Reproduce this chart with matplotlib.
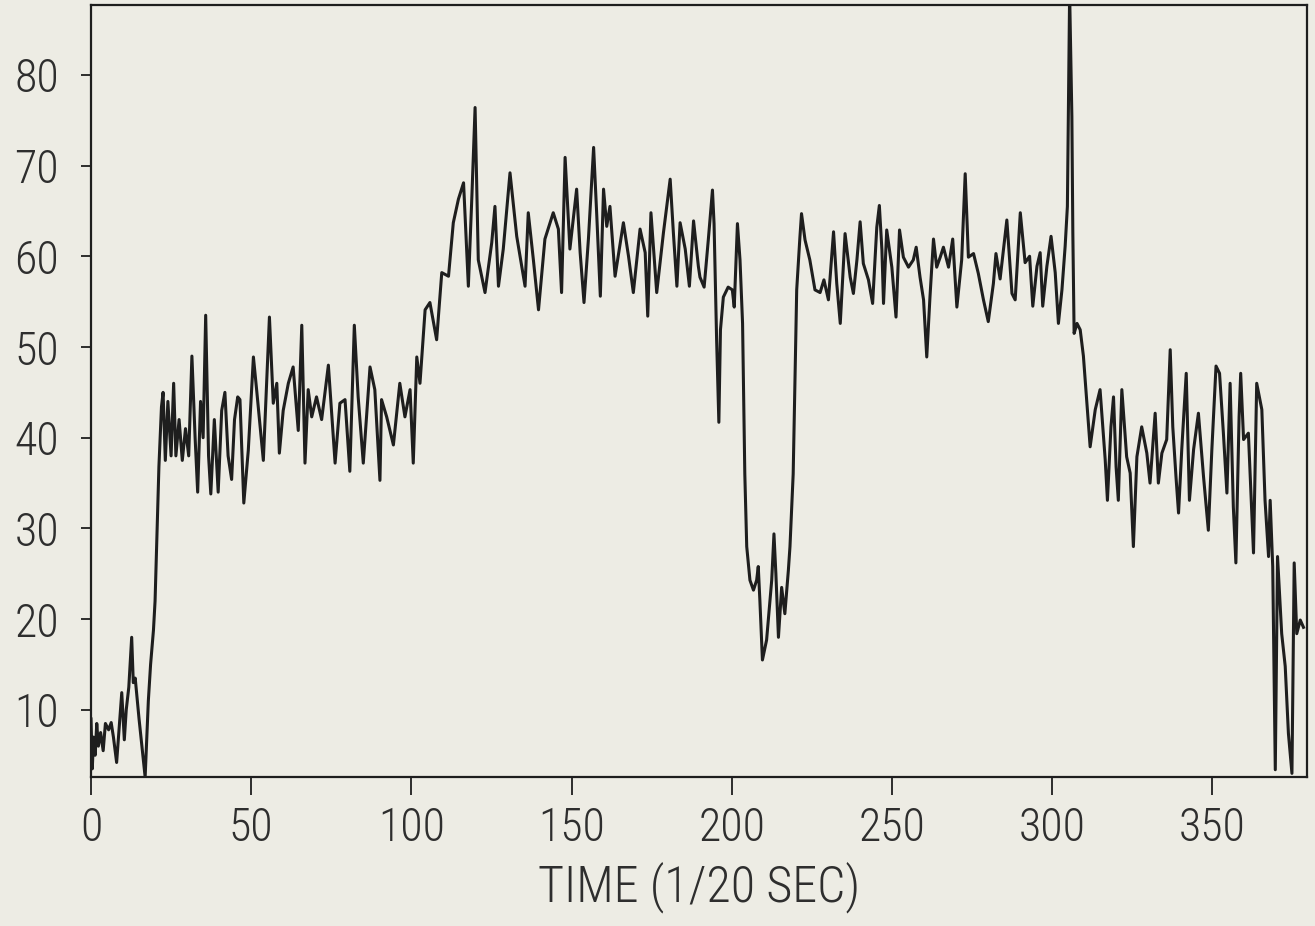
import matplotlib
matplotlib.use("Agg")
import matplotlib.pyplot as plt
from matplotlib import font_manager
from matplotlib.font_manager import FontProperties

# ---- data (time in 1/20 s, signal value) ----
time = [0, 0.4, 0.8, 1.3, 1.8, 2.3, 3, 3.8, 4.5, 5.5, 6.3, 7, 8, 8.8, 9.6, 10.4, 11, 11.8, 12.7, 13.2,
        13.8, 15, 16.2, 16.9, 17.9, 18.6, 19.5, 20, 20.8, 21.2, 22,
        22.5, 23.2, 24, 25, 25.8, 26.5, 27.5, 28.5, 29.5, 30.5, 31.5, 32.5, 33.3, 34.2, 35, 35.8, 36.7,
        37.4, 38.5, 39.7, 40.8, 41.8, 42.8, 43.9, 44.8, 45.8, 46.5, 47.7,
        49.1, 50.7, 51.7, 53.8, 55.7, 56.9, 58, 58.8, 60, 61.6, 63.1, 64.7, 65.8, 66.8, 67.8, 68.9, 70.4,
        72, 74.1, 76.2, 77.7, 79.3, 80.8, 82.2, 83.4, 85, 87.1, 88.6, 90.2, 90.7, 92.3, 94.4, 96.4, 98,
        99.6, 100.6, 101.7, 102.7,
        104.3, 105.8, 107.9, 109.5, 111.6, 113.1, 114.7, 116.3, 117.8, 118.9, 119.9, 120.9, 123, 125.1,
        126.1, 127.2, 128.7, 130.8, 132.9, 135.5, 136.5, 138.1, 139.7, 141.7, 144.3, 145.9, 146.9, 148,
        149.5, 151.6, 152.7, 153.9,
        155.3, 156.9, 157.9, 159, 160, 161, 162, 163.6, 166.2, 167.8, 169.3, 171.4, 173, 173.8, 174.8,
        176.6, 178.7, 180.8, 181.8, 182.9, 183.9, 185.5, 186.8, 188.1, 189.6, 190.1, 191.4, 192.7, 194,
        194.5, 195.3, 196, 196.5, 197.4, 198.9, 200.2, 200.8, 201.8, 202.6, 203.4, 204.1, 204.7, 205.7,
        206.8, 207.8, 208.3, 208.8, 209.6, 210.9, 212.5, 213.2, 213.8, 214.6, 215.6, 216.6, 217.7, 218.2,
        219.2, 220.3, 221.3, 221.8, 222.9, 224.4, 226, 227.6, 228.8, 230.2,
        231.8, 232.8, 233.9, 235.4, 237, 238, 239.1, 240.1, 241.1, 242.7, 244, 245.3, 246.1, 246.9, 247.4,
        248.4, 250, 251.3, 252.4, 253.6, 255.2, 256.7, 257.6, 258.8, 259.9, 260.9, 261.9, 263, 264, 265.1,
        266.1, 267.7, 269, 270.3, 271.8, 272.9, 273.9, 275.5, 277, 278.6, 280.1, 281.7, 282.5, 283.8,
        285.9, 287.5, 288.5, 290.1, 291.6, 293, 294, 295.3, 296.3, 297.1, 298.4, 299.7, 301, 302, 303.1,
        304.1, 304.8, 305.5, 306.2, 306.5, 306.9, 307.8, 308.8, 309.8, 311.9,
        313.5, 315, 316.6, 317.3, 318.4, 319.2, 320, 320.7, 321.8, 323.3, 324.4, 325.4, 326.5, 328, 329.6,
        330.6, 332.2, 333.2, 334.3, 335.8, 336.9, 337.7, 338.7, 339.5, 340.5, 341.9, 342.9, 344.2, 345.7,
        347.3, 348.8, 349.9, 351.2, 352.3, 353.5, 354.6, 355.6, 356.6, 357.4, 358.4, 358.9, 359.8, 361.3,
        362.9, 363.9, 365.5, 366.5, 367.6, 368.1, 368.9, 369.7, 370.4, 371.7, 372.8, 373.8, 374.9, 375.6,
        376.4, 377.5, 378.5]

value = [9, 3.5, 7, 5, 8.5, 6, 7.5, 5.5, 8.5, 7.8, 8.6, 7, 4.2, 8, 11.9, 6.7, 10, 12.5, 18, 13,
         13.5, 9, 5, 2.6, 11, 15, 18.8, 22, 32, 36.8, 43.4,
         45, 37.5, 44, 38, 46, 38, 42, 37.5, 41, 38, 49, 40, 34, 44, 40, 53.5, 38,
         33.8, 42, 34, 43, 45, 38, 35.4, 42, 44.5, 44.2, 32.8,
         38.6, 48.9, 45.3, 37.5, 53.3, 43.8, 46, 38.3, 43, 46, 47.8, 40.8, 52.4, 37.2, 45.3, 42.3, 44.5,
         42, 48, 37.2, 43.8, 44.2, 36.3, 52.4, 44.5, 37.2, 47.8, 45.3, 35.3, 44.2, 42.3, 39.2, 46, 42.3,
         45.3, 37.2, 48.9, 46,
         54.1, 54.9, 50.8, 58.2, 57.8, 63.7, 66.3, 68.1, 56.7, 66.6, 76.4, 59.6, 56, 61.5,
         65.5, 56.7, 60.8, 69.2, 62.2, 56.7, 64.8, 59.6, 54.1, 61.9, 64.8, 63, 56, 70.9,
         60.8, 67.4, 60.4, 54.9,
         62, 72, 64.4, 55.6, 67.4, 63.3, 65.5, 57.8, 63.7, 60, 56, 63, 60.4, 53.4, 64.8,
         56, 62.6, 68.5, 62.6, 56.7, 63.7, 60.8, 56.7, 63.9, 58.9, 57.7, 56.6, 61.8, 67.3,
         63.6, 50.8, 41.7, 51.9, 55.5, 56.6, 56.3, 54.4, 63.6, 59.6, 52.6, 36, 28, 24.3,
         23.2, 24.3, 25.8, 22.1, 15.5, 17.7, 24.3, 29.4, 25, 18, 23.5, 20.6, 25.4, 28,
         36, 56.3, 62.1, 64.7, 61.8, 59.6, 56.3, 56, 57.4, 55.2,
         62.7, 57, 52.6, 62.5, 57.7, 55.9, 59.6, 63.8, 59.2, 57.4, 54.8, 63.2, 65.6, 60.7, 54.8,
         62.9, 58.8, 53.3, 62.9, 59.9, 58.8, 59.6, 61, 57.7, 55.2, 48.9, 55.5, 61.9, 58.8, 59.9,
         61, 58.8, 61.9, 54.4, 59.6, 69.1, 59.9, 60.3, 58.1, 55.2, 52.8, 57, 60.3, 57.5,
         64, 55.9, 55.2, 64.8, 59.3, 60, 54.5, 58.9, 60.4, 54.5, 58.9, 62.2, 58.2, 52.6, 56.3,
         61.1, 65.5, 89, 75.4, 62.6, 51.5, 52.6, 51.9, 49, 39,
         43.1, 45.3, 37.6, 33.1, 41.2, 44.5, 36.8, 33.1, 45.3, 37.9, 36.1, 28, 37.9, 41.2, 38.3,
         35, 42.7, 35, 38.3, 39.8, 49.7, 41.2, 35.7, 31.7, 38.7, 47.1, 33.1, 38.7, 42.7,
         35.7, 29.8, 38.7, 47.9, 47.1, 40.5, 33.9, 46, 32.4, 26.2, 42.3, 47.1, 39.8, 40.5,
         27.3, 46, 43.1, 33.1, 26.9, 33.1, 25.8, 3.4, 26.9, 18.4, 14.8, 7.4, 3, 26.2,
         18.4, 19.9, 19.1]

x_ticks = [0, 50, 100, 150, 200, 250, 300, 350]
y_ticks = [10, 20, 30, 40, 50, 60, 70, 80]
x_label = "TIME (1/20 SEC)"


# ---- font: look for a narrow / condensed sans, thin if possible ----
def pick_font():
    names = {f.name for f in font_manager.fontManager.ttflist}
    for nm in ["Roboto Condensed", "Liberation Sans Narrow", "Open Sans Condensed",
               "DejaVu Sans Condensed", "Noto Sans Condensed"]:
        if nm in names:
            return FontProperties(family=nm, weight="light")
    cands = []
    for f in font_manager.fontManager.ttflist:
        st = str(f.stretch).lower()
        fn = f.fname.lower()
        if ("condensed" in st or "narrow" in fn or "condensed" in fn) and "mono" not in fn \
                and "serif" not in f.name.lower() and "italic" not in fn and "oblique" not in fn:
            w = f.weight if isinstance(f.weight, int) else 400
            cands.append((abs(w - 300), f.fname))
    if cands:
        cands.sort()
        return FontProperties(fname=cands[0][1])
    return FontProperties(family="DejaVu Sans", weight="light")


fp = pick_font()
fp_tick = fp.copy()
fp_tick.set_size(33)
fp_lab = fp.copy()
fp_lab.set_size(36)

bg = "#edece4"
ink = "#1e1e1e"
txt = "#2e2e2e"
fig = plt.figure(figsize=(13.15, 9.26), dpi=100, facecolor=bg)
ax = fig.add_axes([91 / 1315, 149 / 926, (1307 - 91) / 1315, (777 - 5) / 926])
ax.set_facecolor(bg)

ax.plot(time, value, color=ink, lw=2.2, solid_joinstyle="round")

ax.set_xlim(0, 379.6)
ax.set_ylim(2.6, 87.7)
ax.set_xticks(x_ticks)
ax.set_yticks(y_ticks)
ax.set_xticklabels([str(t) for t in x_ticks], fontproperties=fp_tick, color=txt)
ax.set_yticklabels([str(t) for t in y_ticks], fontproperties=fp_tick, color=txt)
ax.tick_params(axis="x", direction="out", length=13, width=1.3, pad=8, colors=ink, labelcolor=txt)
ax.tick_params(axis="y", direction="out", length=7, width=1.3, pad=16, colors=ink, labelcolor=txt)
for s in ax.spines.values():
    s.set_linewidth(1.6)
    s.set_color(ink)
ax.set_xlabel(x_label, fontproperties=fp_lab, color=txt, labelpad=8)

fig.savefig("out.png", dpi=100, facecolor=bg)
